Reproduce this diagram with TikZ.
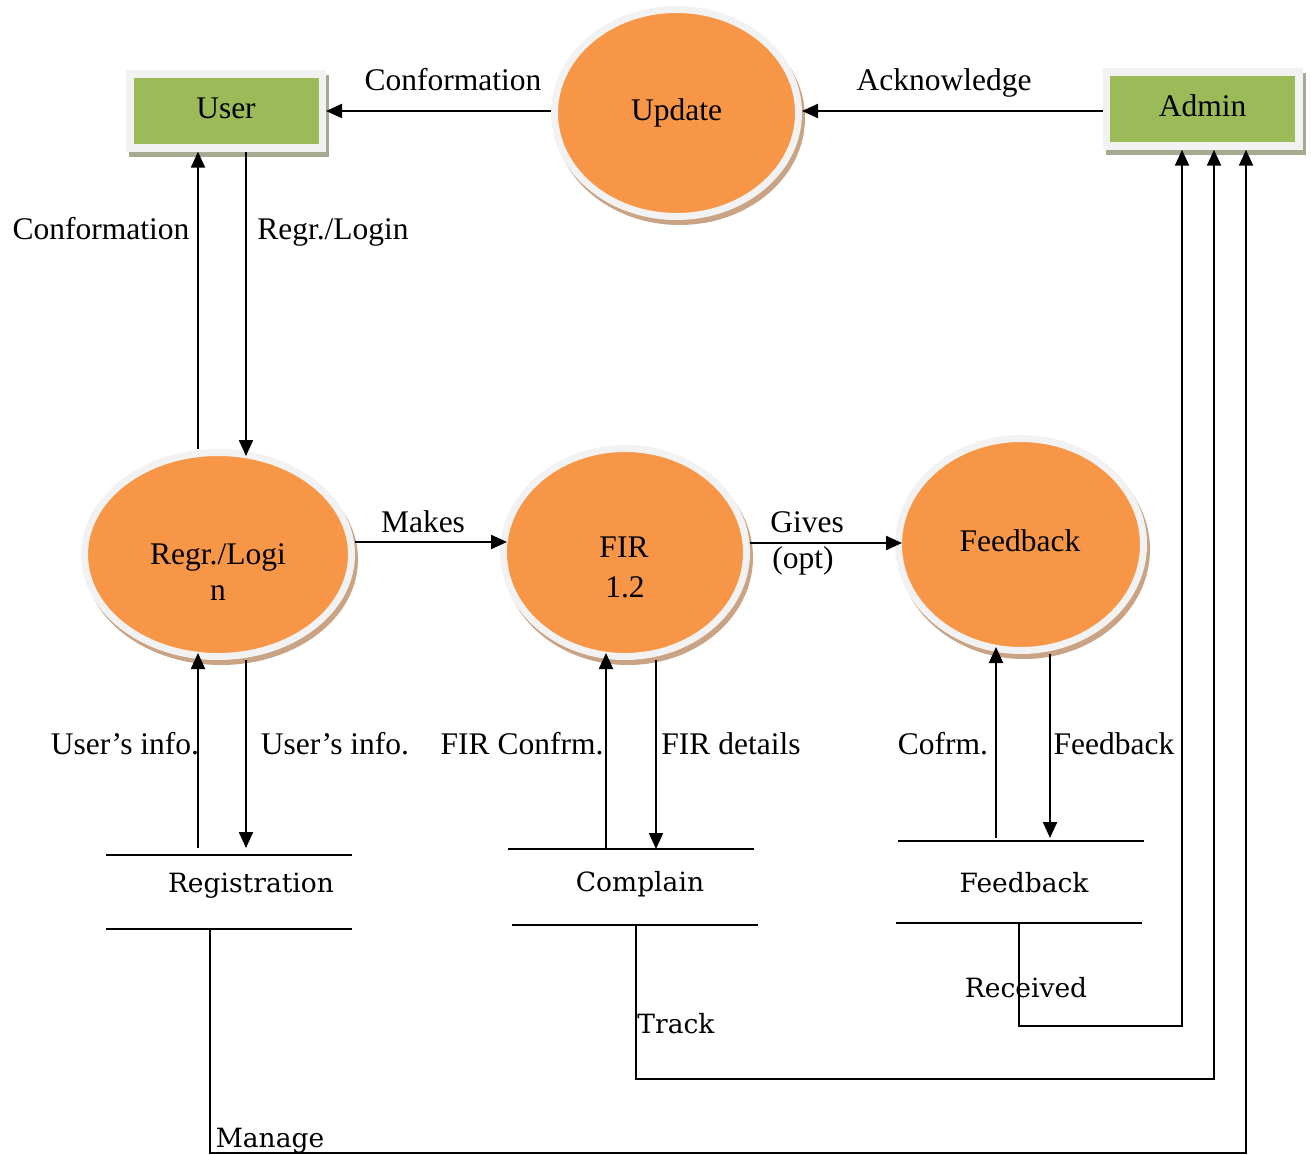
\documentclass[tikz,border=0pt]{standalone}
\usepackage{fontspec}
\setmainfont{Liberation Serif}
\newfontfamily\storefont{DejaVu Serif}
\usetikzlibrary{shapes.geometric,arrows.meta,backgrounds}
\definecolor{grn}{HTML}{9BBB59}
\definecolor{orng}{HTML}{F79646}
\definecolor{ringc}{HTML}{F2F2F2}
\definecolor{eshadow}{HTML}{C9A383}
\definecolor{bshadow}{HTML}{A5AA90}
\newcommand{\mainsz}{\fontsize{31.5pt}{36pt}\selectfont}
\newcommand{\storesz}{\storefont\fontsize{26.5pt}{32pt}\selectfont}
\tikzset{
  lbl/.style={font=\mainsz, inner sep=0pt, outer sep=0pt, anchor=base},
  slbl/.style={font=\storesz, inner sep=0pt, outer sep=0pt, anchor=base},
  arr/.style={line width=2.2pt, -{Triangle[length=16pt,width=14pt]}},
  ln/.style={line width=2.2pt},
  proc/.style={ellipse, fill=orng, draw=ringc, line width=7pt, inner sep=0pt},
  ent/.style={rectangle, fill=grn, draw=ringc, line width=7.5pt, minimum width=192.5pt,
    minimum height=74pt, inner sep=0pt, font=\mainsz, text height=21pt, text depth=5pt},
  store/.style={rectangle, inner sep=0pt, outer sep=0pt, minimum width=246pt},
  into/.style={shorten >=-7pt}
}
\begin{document}
\begin{tikzpicture}[x=1pt,y=-1pt]
\useasboundingbox (0,0) rectangle (1311,1155);

% entities
\node[ent] (user) at (226,111) {User};
\node[ent] (adm) at (1202.5,109) {Admin};

% processes
\node[proc, minimum width=244pt, minimum height=207pt] (upd) at (676.5,113) {};
\node[proc, minimum width=267pt, minimum height=204pt] (regr) at (218,554.5) {};
\node[proc, minimum width=243pt, minimum height=208pt] (fir) at (625,552.5) {};
\node[proc, minimum width=245pt, minimum height=212pt] (fb) at (1021,544.5) {};
\node[lbl] (updT) at (676.5,121) {Update};
\node[lbl] (regrT1) at (218,564) {Regr./Logi};
\node[lbl] (regrT2) at (218,600) {n};
\node[lbl] (firT1) at (624,557) {FIR};
\node[lbl] (firT2) at (625,597) {1.2};
\node[lbl] (fbT) at (1020,551) {Feedback};

% data stores
\node[store, minimum height=74pt] (reg) at (229,892) {};
\node[store, minimum height=76pt] (cmp) at (631,887) {};
\node[store, minimum height=82pt] (fbs) at (1021,882) {};
\draw[ln] (reg.north west) -- (reg.north east);
\draw[ln] (reg.south west) -- (reg.south east);
\draw[ln] (cmp.north west) -- (cmp.north east);
\draw[ln] ([xshift=4pt]cmp.south west) -- ([xshift=4pt]cmp.south east);
\draw[ln] (fbs.north west) -- (fbs.north east);
\draw[ln] ([xshift=-2pt]fbs.south west) -- ([xshift=-2pt]fbs.south east);
\node[slbl] (regT) at (251,892) {Registration};
\node[slbl] (cmpT) at (640,891) {Complain};
\node[slbl] (fbsT) at (1024,892) {Feedback};

% shadows
\begin{scope}[on background layer]
  \fill[bshadow] ([shift={(3,5)}]user.south west) rectangle ([shift={(3,5)}]user.north east);
  \fill[bshadow] ([shift={(3,5)}]adm.south west) rectangle ([shift={(3,5)}]adm.north east);
  \fill[eshadow] ([shift={(3,5)}]upd.center) ellipse [x radius=125.5pt, y radius=107pt];
  \fill[eshadow] ([shift={(3,5)}]regr.center) ellipse [x radius=137pt, y radius=105.5pt];
  \fill[eshadow] ([shift={(3,5)}]fir.center) ellipse [x radius=125pt, y radius=107.5pt];
  \fill[eshadow] ([shift={(3,5)}]fb.center) ellipse [x radius=126pt, y radius=109.5pt];
\end{scope}

% columns and rows
\coordinate (xa) at (198,0);
\coordinate (xb) at (246,0);
\coordinate (xc) at (606,0);
\coordinate (xd) at (656,0);
\coordinate (xe) at (996,0);
\coordinate (xf) at (1050,0);
\coordinate (xg) at (1182,0);
\coordinate (xh) at (1214,0);
\coordinate (xi) at (1246,0);
\coordinate (xm) at (210,0);
\coordinate (xt) at (636,0);
\coordinate (xr) at (1019,0);
\coordinate (ytop) at (0,111);
\coordinate (ym) at (0,542);
\coordinate (yg) at (0,543);
\coordinate (yrcv) at (0,1026);
\coordinate (ytrk) at (0,1079);
\coordinate (ymng) at (0,1153);

% top connectors
\draw[arr] (upd.west |- ytop) -- (user.east |- ytop);
\draw[arr] (adm.west |- ytop) -- (upd.east |- ytop);
\node[lbl] (l1) at (453,91) {Conformation};
\node[lbl] (l2) at (944,91) {Acknowledge};

% user <-> regr
\draw[arr] (regr.north -| xa) -- (user.south -| xa);
\draw[arr, into] (user.south -| xb) -- (regr.north -| xb);
\node[lbl] (l3) at (101,240) {Conformation};
\node[lbl] (l4) at (333,240) {Regr./Login};

% middle
\draw[arr, into] (regr.east |- ym) -- (fir.west |- ym);
\draw[arr, into] (fir.east |- yg) -- (fb.west |- yg);
\node[lbl] (l5) at (423,532) {Makes};
\node[lbl] (l6) at (807,532) {Gives};
\node[lbl] (l7) at (803,568) {(opt)};

% stores <-> processes
\draw[arr, shorten <=7pt, into] (reg.north -| xa) -- (regr.south -| xa);
\draw[arr, shorten >=7pt] (regr.south -| xb) -- (reg.north -| xb);
\draw[arr, into] (cmp.north -| xc) -- (fir.south -| xc);
\draw[arr] (fir.south -| xd) -- (cmp.north -| xd);
\draw[arr, shorten <=3pt, into] (fbs.north -| xe) -- (fb.south -| xe);
\draw[arr, shorten >=3pt] (fb.south -| xf) -- (fbs.north -| xf);
\node[lbl] (l8) at (125,754) {User's info.};
\node[lbl] (l9) at (335,754) {User's info.};
\node[lbl] (l10) at (522,754) {FIR Confrm.};
\node[lbl] (l11) at (731,754) {FIR details};
\node[lbl] (l12) at (943,754) {Cofrm.};
\node[lbl] (l13) at (1114,754) {Feedback};

% stores -> admin
\draw[arr] (fbs.south -| xr) -- (yrcv -| xr) -- (yrcv -| xg) -- (adm.south -| xg);
\draw[arr] (cmp.south -| xt) -- (ytrk -| xt) -- (ytrk -| xh) -- (adm.south -| xh);
\draw[arr] (reg.south -| xm) -- (ymng -| xm) -- (ymng -| xi) -- (adm.south -| xi);
\node[slbl] (l14) at (1026,997) {Received};
\node[slbl] (l15) at (676,1033) {Track};
\node[slbl] (l16) at (270,1147) {Manage};
\end{tikzpicture}
\end{document}
